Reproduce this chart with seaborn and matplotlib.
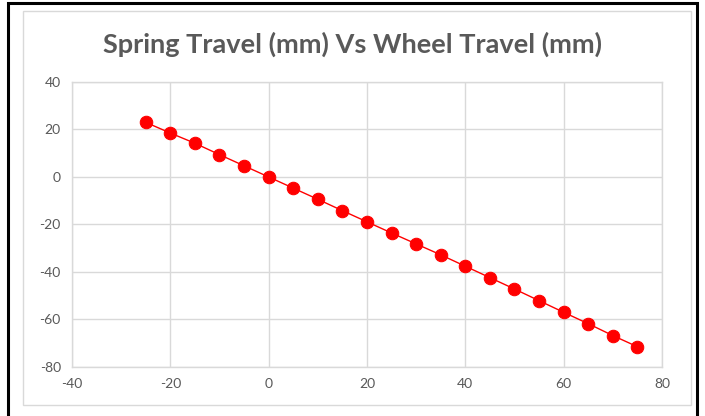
import pandas as pd
import numpy as np
import matplotlib.pyplot as plt
import seaborn as sns
from matplotlib.patches import Rectangle

wheel_travel = [-25, -20, -15, -10, -5, 0, 5, 10, 15, 20, 25, 30, 35, 40, 45, 50, 55, 60, 65, 70, 75]
spring_travel = [23.0, 18.5, 14.2, 9.4, 4.7, 0.0, -4.7, -9.4, -14.2, -18.9, -23.6, -28.2, -32.8, -37.6, -42.4, -47.2, -52.1, -57.0, -61.8, -66.8, -71.5]
xticks = [-40, -20, 0, 20, 40, 60, 80]
yticks = [-80, -60, -40, -20, 0, 20, 40]

df = pd.DataFrame({"Wheel": wheel_travel, "Spring": spring_travel})

sns.set_style("white")
plt.rcParams['font.family'] = ['Lato', 'DejaVu Sans']
plt.rcParams['axes.unicode_minus'] = False

fig = plt.figure(figsize=(7.05, 4.16), dpi=100)
ax = fig.add_axes([0.102, 0.118, 0.837, 0.685])

# frame like the screenshot
fig.patches.append(Rectangle((8/705, -0.01), 689/705, 1 - 3/416 + 0.01, transform=fig.transFigure,
                             fill=False, ec='black', lw=2.2))
fig.patches.append(Rectangle((23/705, 11/416), 668/705, 1 - 22/416, transform=fig.transFigure,
                             fill=False, ec='#d9d9d9', lw=1))

sns.lineplot(data=df, x="Wheel", y="Spring", ax=ax, sort=False, color='#ff0000', lw=1,
             marker='o', markersize=9, markeredgecolor='#ff0000', zorder=3)

ax.set_xlim(-40, 80)
ax.set_ylim(-80, 40)
ax.set_xticks(xticks)
ax.set_yticks(yticks)
ax.grid(True, color='#d9d9d9', lw=1)
for s in ax.spines.values():
    s.set_color('#d9d9d9')
    s.set_linewidth(1)
ax.tick_params(length=0, labelsize=10, colors='#595959', pad=8)
ax.set_xlabel("")
ax.set_ylabel("")
fig.text(0.5, 0.893, "Spring Travel (mm) Vs Wheel Travel (mm)", ha='center', va='center',
         fontsize=19.5, fontweight='bold', color='#595959')

fig.savefig("out.png", dpi=100)
